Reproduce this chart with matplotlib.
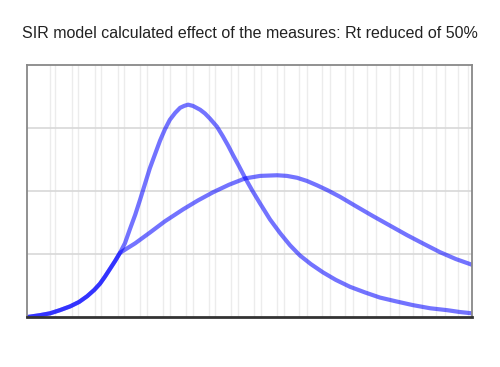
import numpy as np
import matplotlib
matplotlib.use("Agg")
import matplotlib.pyplot as plt

# shared early growth (both scenarios identical until measures start)
x_common = [0, 2.9, 5.2, 7.4, 9.7, 11.7, 13.5, 15.1, 16.4, 17.5, 18.7, 19.8, 20.9]
y_common = [0, 0.03, 0.06, 0.11, 0.17, 0.24, 0.33, 0.43, 0.53, 0.64, 0.77, 0.89, 1.02]

# no measures
x_free = [22.0, 23.1, 24.3, 25.4, 26.5, 27.6, 28.8, 29.9, 31.0, 32.1, 33.3, 34.4,
          35.3, 36.2, 37.3, 38.9, 40.0, 41.1, 42.7, 44.0, 45.2, 46.3, 47.6, 49.0,
          50.6, 52.4, 54.6, 56.9, 59.1, 61.3, 63.8, 66.5, 69.4, 72.6, 76.0, 79.3,
          82.9, 86.7, 90.6, 94.4, 97.3, 100]
y_free = [1.17, 1.39, 1.62, 1.86, 2.11, 2.36, 2.59, 2.80, 2.98, 3.13, 3.24, 3.32,
          3.35, 3.37, 3.35, 3.29, 3.23, 3.15, 3.02, 2.87, 2.72, 2.57, 2.40, 2.21,
          2.01, 1.80, 1.55, 1.33, 1.14, 0.98, 0.84, 0.71, 0.59, 0.48, 0.39, 0.31,
          0.25, 0.19, 0.14, 0.11, 0.08, 0.06]

# Rt reduced of 50%
x_reduced = [24.3, 27.6, 31.0, 35.1, 38.4, 41.8, 45.4, 49.0, 52.4, 56.2, 58.4, 60.7,
             62.9, 65.2, 67.6, 70.3, 73.9, 77.8, 81.6, 85.4, 89.2, 92.8, 96.4, 100]
y_reduced = [1.17, 1.34, 1.52, 1.71, 1.85, 1.98, 2.10, 2.20, 2.24, 2.25, 2.24, 2.21,
             2.16, 2.09, 2.01, 1.91, 1.76, 1.60, 1.45, 1.30, 1.16, 1.03, 0.92, 0.83]

title = "SIR model calculated effect of the measures: Rt reduced of 50%"

plt.rcParams['font.family'] = ['Liberation Sans', 'DejaVu Sans']

fig = plt.figure(figsize=(5, 3.67), dpi=100)
ax = fig.add_axes([0.054, 0.136, 0.89, 0.687])

# faint vertical grid (two slightly offset sets, as in the original)
for xv in 5.1 * np.arange(1, 20):
    ax.axvline(xv, color="#ececec", lw=1, zorder=0)
for xv in 6.3 + 5.15 * np.arange(0, 19):
    ax.axvline(xv, color="#ececec", lw=1, zorder=0)
for yv in [1, 2, 3]:
    ax.axhline(yv, color="#d8d8d8", lw=1.2, zorder=0)

ax.plot(x_common + x_free, y_common + y_free, color="#0000ff", alpha=0.55, lw=3,
        solid_capstyle="round", solid_joinstyle="round")
ax.plot(x_common + x_reduced, y_common + y_reduced, color="#0000ff", alpha=0.55, lw=3,
        solid_capstyle="round", solid_joinstyle="round")

ax.set_xlim(0, 100)
ax.set_ylim(0, 4)
ax.set_xticks([])
ax.set_yticks([])
for side in ["top", "left", "right"]:
    ax.spines[side].set_color("#888888")
    ax.spines[side].set_linewidth(1.3)
ax.spines["bottom"].set_color("#333333")
ax.spines["bottom"].set_linewidth(2)

fig.text(0.5, 0.91, title, ha="center", va="center", fontsize=11.5, color="#222222")

fig.savefig("out.png", dpi=100)
